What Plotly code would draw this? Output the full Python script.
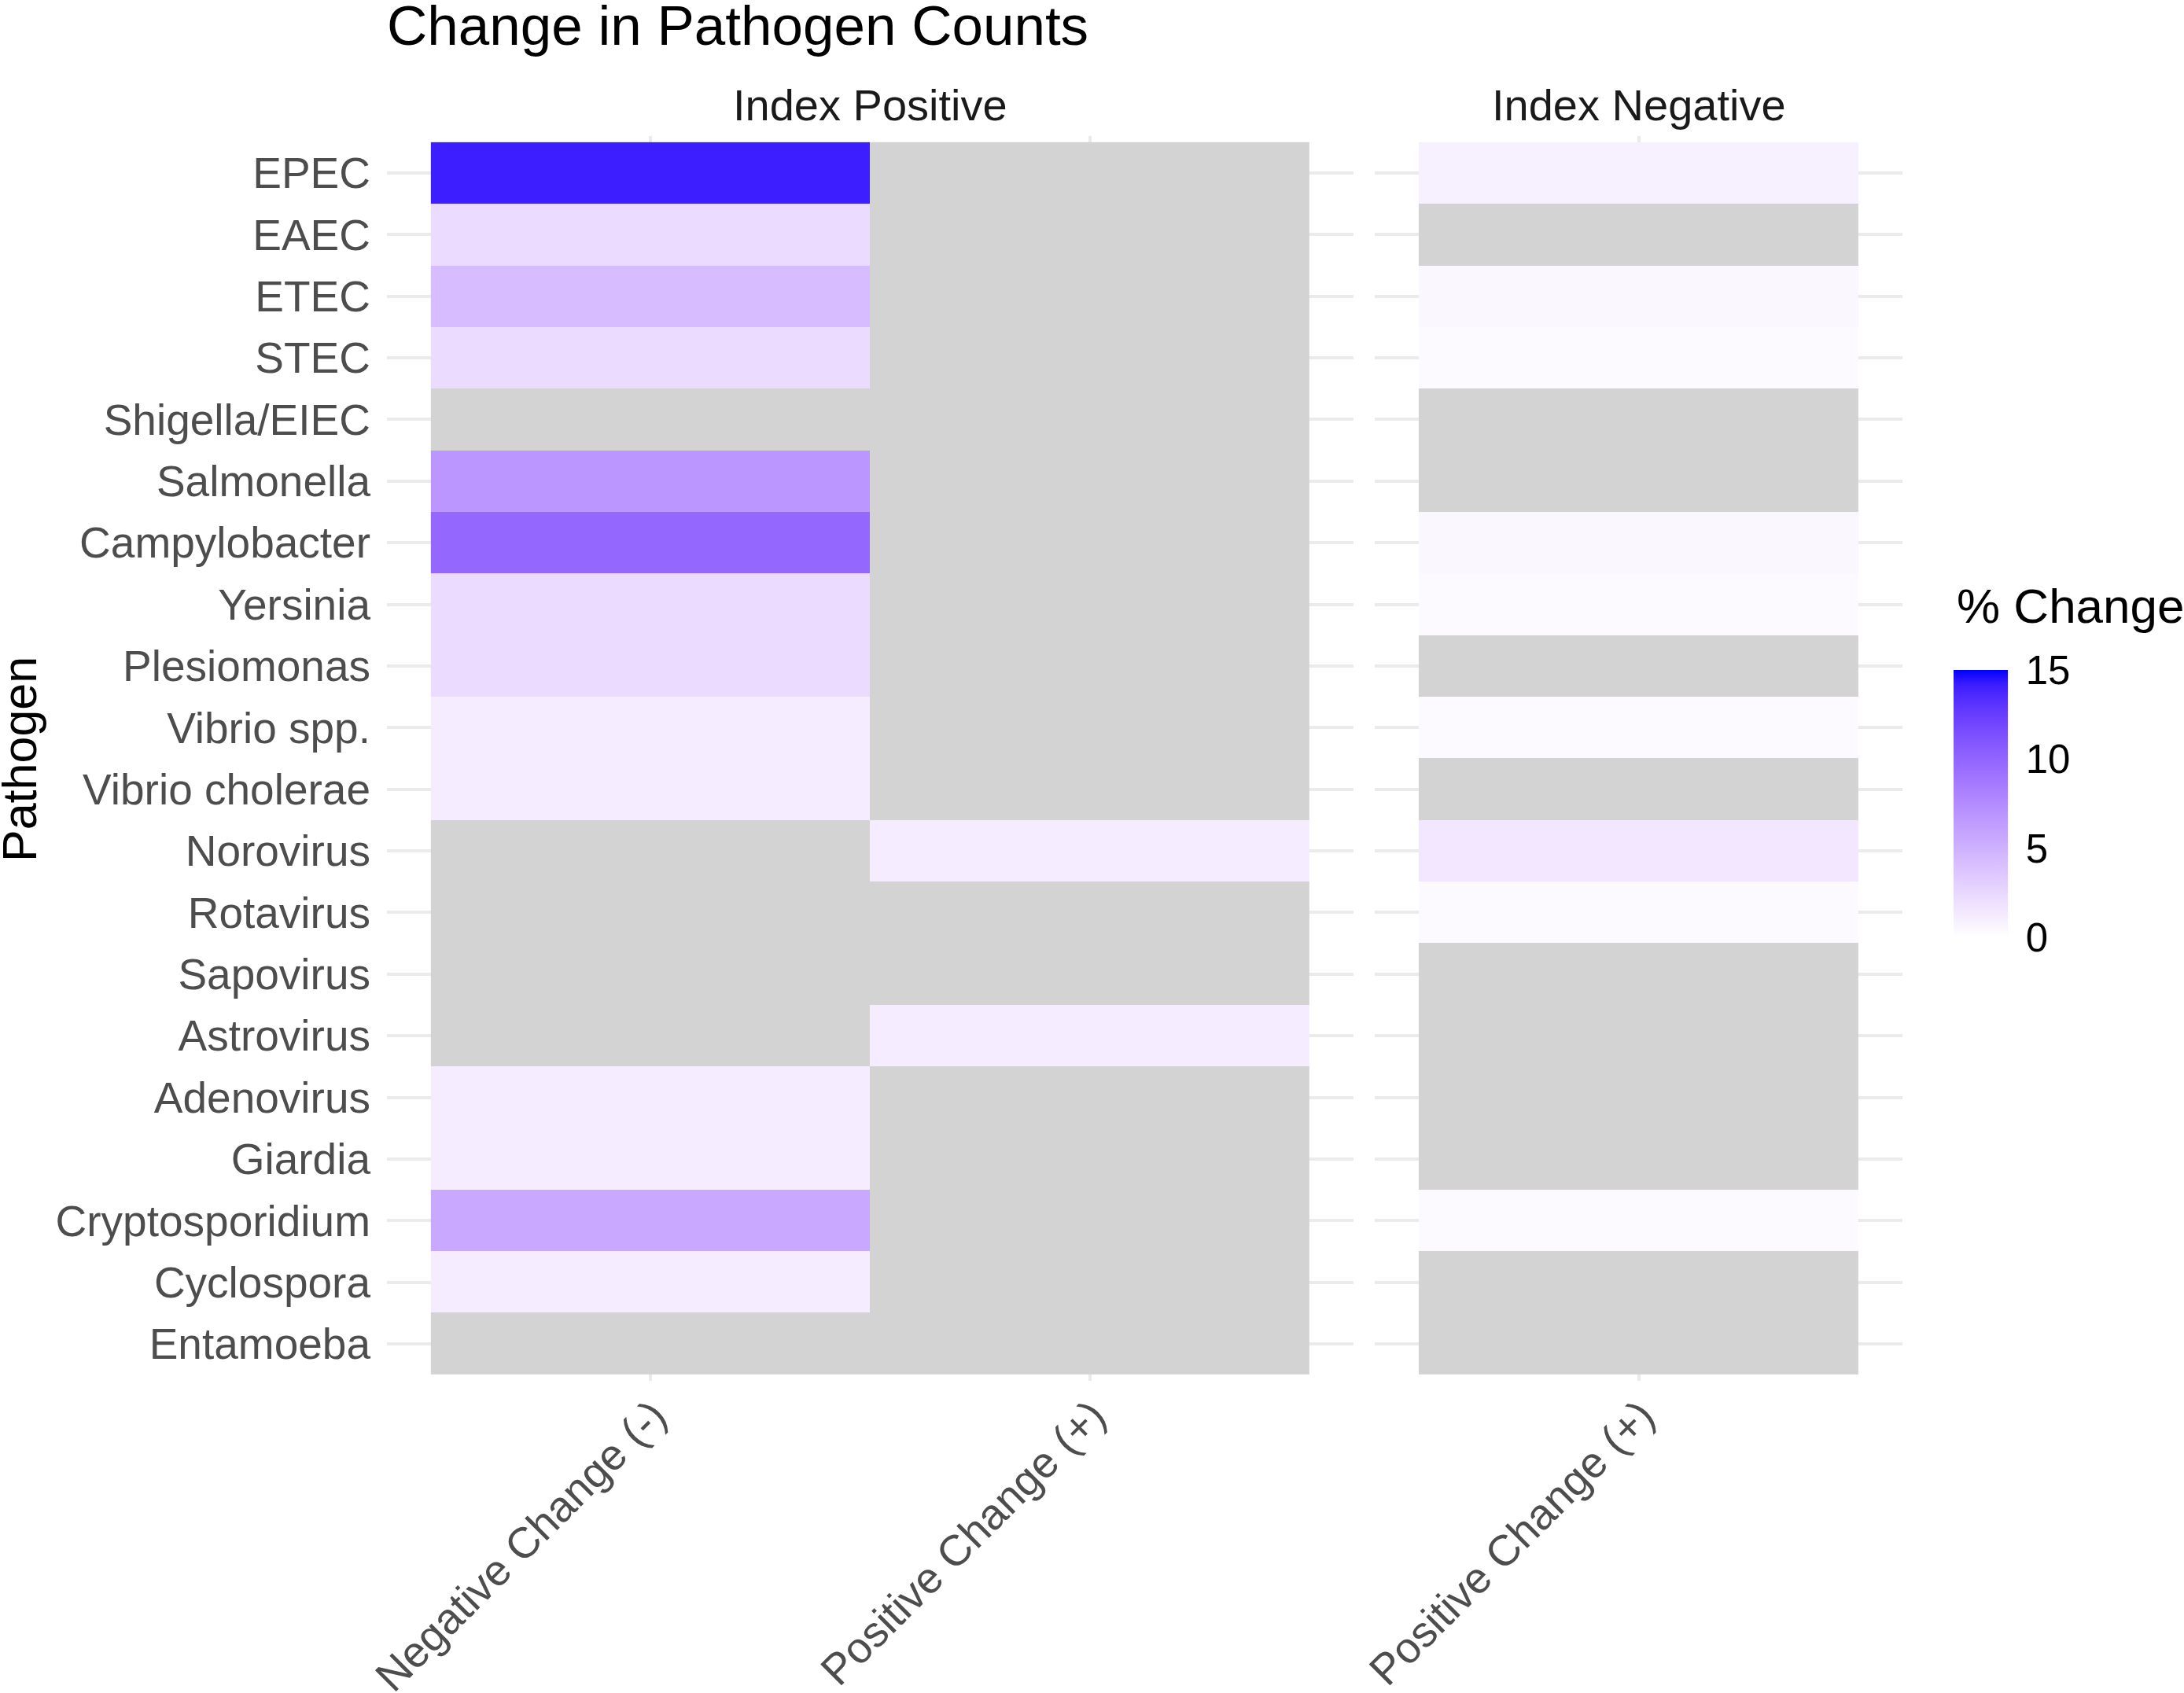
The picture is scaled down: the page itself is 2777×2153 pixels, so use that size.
import plotly.graph_objects as go

# ---------------- data ----------------
pathogens = ["EPEC", "EAEC", "ETEC", "STEC", "Shigella/EIEC", "Salmonella",
             "Campylobacter", "Yersinia", "Plesiomonas", "Vibrio spp.",
             "Vibrio cholerae", "Norovirus", "Rotavirus", "Sapovirus",
             "Astrovirus", "Adenovirus", "Giardia", "Cryptosporidium",
             "Cyclospora", "Entamoeba"]

x_index_pos = ["Negative Change (-)", "Positive Change (+)"]
x_index_neg = ["Positive Change (+)"]

# % change, Index Positive facet
ip_negative_change = [14.1, 2.3, 4.2, 2.3, None, 6.8, 9.8, 2.3, 2.3, 1.1,
                      1.1, None, None, None, None, 1.1, 1.1, 5.5, 1.1, None]
ip_positive_change = [None, None, None, None, None, None, None, None, None, None,
                      None, 1.1, None, None, 1.1, None, None, None, None, None]
# % change, Index Negative facet
in_positive_change = [0.9, None, 0.5, 0.3, None, None, 0.5, 0.3, None, 0.3,
                      None, 1.5, 0.3, None, None, None, None, 0.3, None, None]

color_ticks = [0, 5, 10, 15]

# ---------------- style helpers ----------------
W, H = 2777, 2153
FONT = "Liberation Sans, Arial, sans-serif"
NA_COLOR = "#D3D3D3"
GRID = "#EBEBEB"


def _lin(c):
    c = c / 255.0
    return c / 12.92 if c <= 0.04045 else ((c + 0.055) / 1.055) ** 2.4


def _gam(c):
    c = max(0.0, min(1.0, c))
    v = 12.92 * c if c <= 0.0031308 else 1.055 * c ** (1 / 2.4) - 0.055
    return int(round(v * 255))


def _rgb2lab(rgb):
    r, g, b = (_lin(v) for v in rgb)
    X = (0.4124 * r + 0.3576 * g + 0.1805 * b) / 0.95047
    Y = (0.2126 * r + 0.7152 * g + 0.0722 * b)
    Z = (0.0193 * r + 0.1192 * g + 0.9505 * b) / 1.08883

    def f(t):
        return t ** (1 / 3) if t > 0.008856 else 7.787 * t + 16 / 116
    fx, fy, fz = f(X), f(Y), f(Z)
    return 116 * fy - 16, 500 * (fx - fy), 200 * (fy - fz)


def _lab2rgb(L, a, b):
    fy = (L + 16) / 116
    fx = fy + a / 500
    fz = fy - b / 200

    def finv(t):
        return t ** 3 if t > 0.2069 else (t - 16 / 116) / 7.787
    X, Y, Z = 0.95047 * finv(fx), finv(fy), 1.08883 * finv(fz)
    r = 3.2406 * X - 1.5372 * Y - 0.4986 * Z
    g = -0.9689 * X + 1.8758 * Y + 0.0415 * Z
    bb = 0.0557 * X - 0.2040 * Y + 1.0570 * Z
    return _gam(r), _gam(g), _gam(bb)


def lab_scale(c0, c1, n=21):
    l0, l1 = _rgb2lab(c0), _rgb2lab(c1)
    out = []
    for i in range(n):
        t = i / (n - 1)
        lab = [l0[k] + (l1[k] - l0[k]) * t for k in range(3)]
        r, g, b = _lab2rgb(*lab)
        out.append([t, f"rgb({r},{g},{b})"])
    return out


colorscale = lab_scale((255, 255, 255), (0, 0, 255))

z_ip = [[a, b] for a, b in zip(ip_negative_change, ip_positive_change)]
na_ip = [[1 if a is None else None, 1 if b is None else None]
         for a, b in zip(ip_negative_change, ip_positive_change)]
z_in = [[a] for a in in_positive_change]
na_in = [[1 if a is None else None] for a in in_positive_change]

fig = go.Figure()
na_cs = [[0, NA_COLOR], [1, NA_COLOR]]
fig.add_trace(go.Heatmap(x=x_index_pos, y=pathogens, z=na_ip, colorscale=na_cs,
                         showscale=False, hoverinfo="skip", xaxis="x", yaxis="y"))
fig.add_trace(go.Heatmap(x=x_index_pos, y=pathogens, z=z_ip, coloraxis="coloraxis",
                         xaxis="x", yaxis="y"))
fig.add_trace(go.Heatmap(x=x_index_neg, y=pathogens, z=na_in, colorscale=na_cs,
                         showscale=False, hoverinfo="skip", xaxis="x2", yaxis="y2"))
fig.add_trace(go.Heatmap(x=x_index_neg, y=pathogens, z=z_in, coloraxis="coloraxis",
                         xaxis="x2", yaxis="y2"))

ydom = [1 - 1756 / H, 1 - 173 / H]
xcommon = dict(type="category", showgrid=True, gridcolor=GRID, gridwidth=4,
               zeroline=False, ticks="", showline=False, tickangle=-45,
               automargin=False, ticklabelshift=4, ticklabelstandoff=0,
               tickfont=dict(family=FONT, size=55, color="#4D4D4D"))
ycommon = dict(type="category", categoryorder="array", categoryarray=pathogens,
               range=[19.6, -0.6], showgrid=True, gridcolor=GRID, gridwidth=4,
               zeroline=False, ticks="", showline=False, domain=ydom,
               automargin=False, ticklabelstandoff=20,
               tickfont=dict(family=FONT, size=55, color="#4D4D4D"))

fig.update_layout(
    width=W, height=H,
    margin=dict(l=0, r=0, t=0, b=0, pad=0, autoexpand=False),
    paper_bgcolor="white", plot_bgcolor="white",
    font=dict(family=FONT),
    xaxis=dict(xcommon, domain=[492 / W, 1721 / W], range=[-0.6, 1.6], anchor="y",
               categoryorder="array", categoryarray=x_index_pos),
    xaxis2=dict(xcommon, domain=[1748 / W, 2419 / W], range=[-0.6, 0.6], anchor="y2",
                categoryorder="array", categoryarray=x_index_neg),
    yaxis=dict(ycommon, anchor="x"),
    yaxis2=dict(ycommon, anchor="x2", matches="y", showticklabels=False),
    coloraxis=dict(
        colorscale=colorscale, cmin=0, cmax=15,
        colorbar=dict(
            thicknessmode="pixels", thickness=69,
            lenmode="pixels", len=340,
            x=2484 / W, xanchor="left", y=1 - 1192 / H, yanchor="bottom",
            xpad=0, ypad=0, outlinewidth=0,
            tickvals=color_ticks, ticks="outside", tickcolor="white",
            ticklen=13, tickwidth=1,
            tickfont=dict(family=FONT, size=51, color="black"),
        ),
    ),
    annotations=[
        dict(text="Change in Pathogen Counts", xref="paper", yref="paper",
             x=490 / W, y=1 - 32 / H, xanchor="left", yanchor="middle",
             showarrow=False, font=dict(family=FONT, size=71, color="black")),
        dict(text="Pathogen", xref="paper", yref="paper",
             x=25 / W, y=1 - 966 / H, xanchor="center", yanchor="middle",
             textangle=-90, showarrow=False,
             font=dict(family=FONT, size=61, color="black")),
        dict(text="Index Positive", xref="paper", yref="paper",
             x=1106 / W, y=1 - 134 / H, xanchor="center", yanchor="middle",
             showarrow=False, font=dict(family=FONT, size=56, color="#1A1A1A")),
        dict(text="Index Negative", xref="paper", yref="paper",
             x=2083.5 / W, y=1 - 134 / H, xanchor="center", yanchor="middle",
             showarrow=False, font=dict(family=FONT, size=56, color="#1A1A1A")),
        dict(text="% Change", xref="paper", yref="paper",
             x=2486 / W, y=1 - 770 / H, xanchor="left", yanchor="middle",
             showarrow=False, font=dict(family=FONT, size=62, color="black")),
    ],
)

fig.write_html("out.html")
